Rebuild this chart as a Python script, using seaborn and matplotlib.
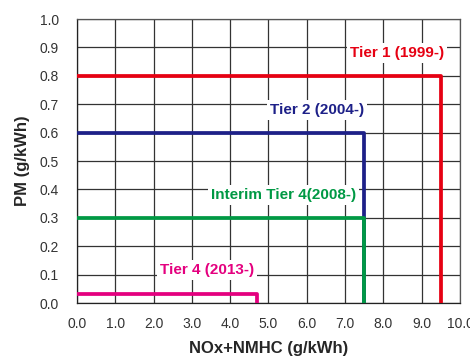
import numpy as np
import pandas as pd
import matplotlib
matplotlib.use("Agg")
import matplotlib.pyplot as plt
import seaborn as sns

# emission tiers (NOx+NMHC limit, PM limit)
tiers = ["Tier 1 (1999-)", "Tier 2 (2004-)", "Interim Tier 4(2008-)", "Tier 4 (2013-)"]
nox_limit = [9.5, 7.5, 7.5, 4.7]
pm_limit = [0.8, 0.6, 0.3, 0.03]
colors = ["#e60012", "#1d2088", "#009944", "#e4007f"]

x_ticks = np.arange(0, 10.01, 1.0)
y_ticks = np.arange(0, 1.001, 0.1)

sns.set_style("white")
plt.rcParams["font.family"] = ["Liberation Sans", "DejaVu Sans"]

# build step path for each tier: along PM level then down to zero
rows = []
for t, nx, p in zip(tiers, nox_limit, pm_limit):
    rows.append({"tier": t, "order": 0, "NOx": 0.0, "PM": p})
    rows.append({"tier": t, "order": 1, "NOx": nx, "PM": p})
    rows.append({"tier": t, "order": 2, "NOx": nx, "PM": 0.0})
df = pd.DataFrame(rows)

fig = plt.figure(figsize=(4.7, 3.6), dpi=100)
ax = fig.add_axes([0.1638, 0.1583, 0.8149, 0.7889])

for t, c in zip(tiers, colors):
    sub = df[df["tier"] == t]
    sns.lineplot(data=sub, x="NOx", y="PM", sort=False, estimator=None,
                 color=c, linewidth=2.7, ax=ax, zorder=3)

ax.set_xlim(0, 10)
ax.set_ylim(0, 1.0)
ax.set_xticks(x_ticks)
ax.set_yticks(y_ticks)
ax.set_xticklabels([f"{v:.1f}" for v in x_ticks], fontsize=10, color="#333333")
ax.set_yticklabels([f"{v:.1f}" for v in y_ticks], fontsize=10, color="#333333")
ax.grid(True, color="#333333", linewidth=0.9)
ax.set_axisbelow(True)
for s in ax.spines.values():
    s.set_color("#555555")
    s.set_linewidth(0.9)
ax.spines["left"].set_color("#222222")
ax.spines["bottom"].set_color("#222222")
ax.tick_params(axis="both", direction="out", length=4, width=0.9, color="#222222")
ax.tick_params(axis="y", pad=9)
ax.tick_params(axis="x", pad=6)

ax.set_xlabel("NOx+NMHC (g/kWh)", fontsize=12, fontweight="bold")
ax.set_ylabel("PM (g/kWh)", fontsize=12, fontweight="bold")
ax.xaxis.set_label_coords(0.5, -0.134)
ax.yaxis.set_label_coords(-0.123, 0.5)

# label positions in data coords
label_x = [8.36, 6.27, 5.39, 3.39]
label_y = [0.88, 0.68, 0.38, 0.116]
for t, c, lx, ly in zip(tiers, colors, label_x, label_y):
    ax.text(lx, ly, t, color=c, fontsize=11, fontweight="bold", ha="center", va="center",
            bbox=dict(facecolor="white", edgecolor="none", pad=2), zorder=4)

plt.savefig("out.png", dpi=100)
